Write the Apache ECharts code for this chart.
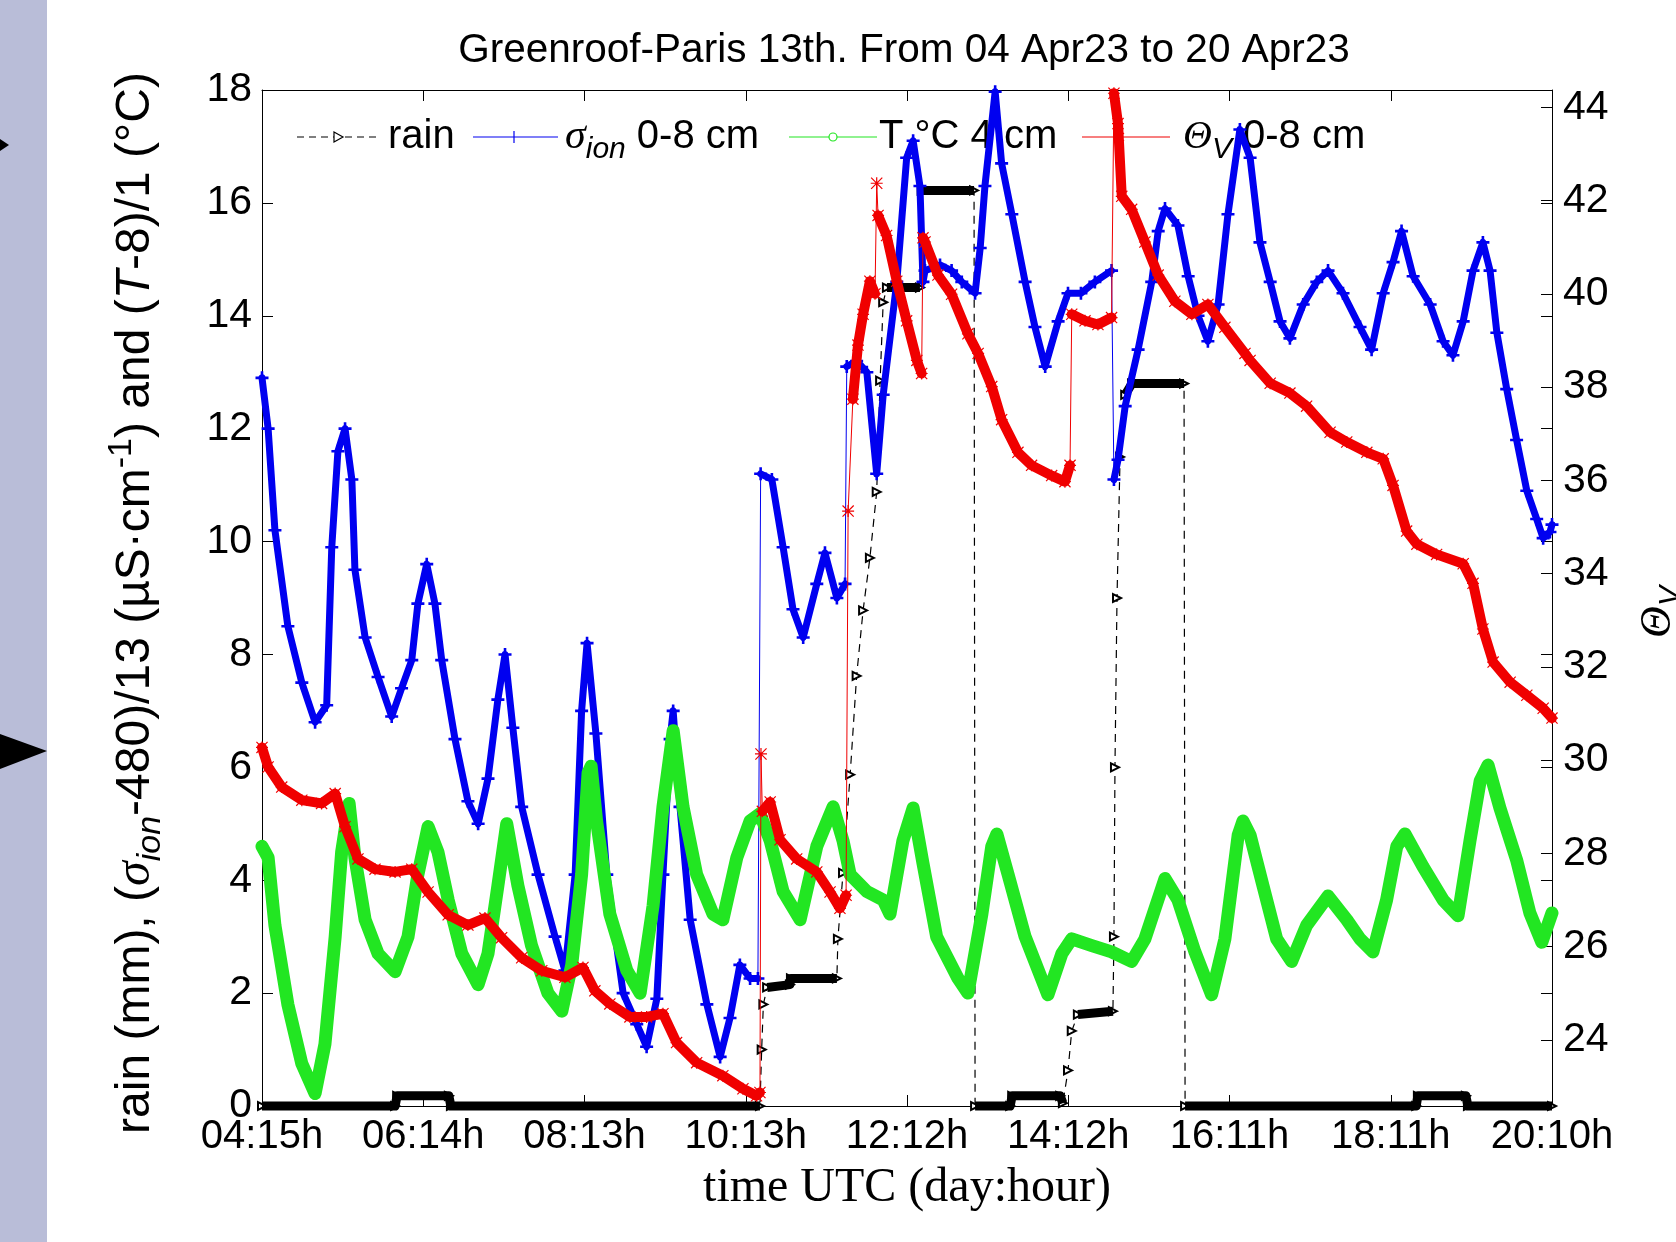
<!DOCTYPE html>
<html>
<head>
<meta charset="utf-8">
<script src="https://cdn.jsdelivr.net/npm/echarts@6/dist/echarts.min.js"></script>
<style>
html,body{margin:0;padding:0;background:#fff;}
#chart{width:1676px;height:1242px;}
</style>
</head>
<body>
<div id="chart"></div>
<script>
// ---------- data (x = hours since 04 Apr 15h UTC) ----------
const xTickLabels = ['04:15h','06:14h','08:13h','10:13h','12:12h','14:12h','16:11h','18:11h','20:10h'];
const X_MAX = 379;
const X_STEP = X_MAX / 8;
const rightTickValues = [24,26,28,30,32,34,36,38,40,42,44];

// cumulative rain (mm), left axis
const rainData = [[0,0],[39.1,0],[39.7,0.18],[54.9,0.18],[55.5,0],[146.3,0],[146.8,1.0],[147.3,1.8],[148.4,2.1],[155.1,2.15],[155.4,2.26],[168.9,2.26],[169.2,2.96],[170.7,4.13],[172.8,5.87],[174.7,7.62],[176.6,8.78],[178.6,9.71],[180.6,10.88],[181.6,12.85],[182.5,14.24],[183.6,14.5],[193.3,14.5],[193.8,16.22],[209.2,16.22],[209.5,0],[219.8,0],[220.4,0.18],[234.5,0.18],[235.3,0.05],[236.8,0.63],[237.9,1.33],[239.7,1.62],[250.0,1.68],[250.3,3.0],[250.6,6.0],[251.2,9.0],[252.1,11.5],[253.6,12.6],[255.6,12.8],[270.9,12.8],[271.2,0],[339.1,0],[339.6,0.18],[353.7,0.18],[354.3,0],[379,0]];

// (sigma_ion - 480)/13, left axis
const sigmaData = [[0,12.9],[1.8,12.0],[3.8,10.2],[7.6,8.5],[11.7,7.5],[15.6,6.8],[19.0,7.1],[20.5,9.9],[22.3,11.6],[24.4,12.0],[26.4,11.1],[27.3,9.5],[30.3,8.3],[34.1,7.6],[38.1,6.9],[41.0,7.4],[44.0,7.9],[45.8,8.9],[48.4,9.6],[50.8,8.9],[52.8,7.9],[56.7,6.5],[60.5,5.4],[63.5,5.0],[66.4,5.8],[69.3,7.2],[71.4,8.0],[73.7,6.7],[76.3,5.3],[81.1,4.1],[86.1,3.0],[89.0,2.4],[92.0,4.1],[93.9,7.0],[95.5,8.2],[98.1,6.6],[101.3,4.1],[106.1,2.0],[110.1,1.45],[113.0,1.05],[116.0,1.9],[117.8,4.1],[119.9,6.5],[120.8,7.0],[122.8,5.3],[125.8,3.3],[130.7,1.8],[134.6,0.87],[137.5,1.56],[140.4,2.5],[143.4,2.26],[145.7,2.26],[146.5,11.2],[149.8,11.1],[153.1,9.9],[156.0,8.8],[159.0,8.3],[163.0,9.25],[165.4,9.8],[168.9,9.0],[171.3,9.25],[171.8,13.1],[174.7,13.2],[177.7,13.0],[180.6,11.2],[182.5,12.6],[186.5,14.6],[189.4,16.8],[191.3,17.1],[193.3,16.3],[194.2,14.6],[194.8,14.8],[199.2,14.9],[202.6,14.8],[205.6,14.6],[209.5,14.4],[211.0,15.2],[212.4,16.3],[215.4,17.97],[217.3,16.7],[220.3,15.8],[224.2,14.6],[227.1,13.8],[230.1,13.1],[233.9,13.9],[236.8,14.4],[240.6,14.4],[244.7,14.6],[249.6,14.8],[250.3,11.1],[251.5,11.45],[253.6,12.4],[257.4,13.4],[261.4,14.6],[263.3,15.5],[265.3,15.9],[269.1,15.6],[272.1,14.7],[275.0,14.0],[277.9,13.55],[280.9,14.2],[283.8,15.8],[287.3,17.3],[290.3,16.8],[293.2,15.3],[296.2,14.6],[299.1,13.9],[302.0,13.6],[305.9,14.2],[309.9,14.6],[313.2,14.8],[317.6,14.4],[322.6,13.8],[326.0,13.4],[329.4,14.4],[332.3,14.95],[334.8,15.5],[338.2,14.7],[343.2,14.2],[347.0,13.55],[349.9,13.3],[352.9,13.9],[355.8,14.8],[358.7,15.3],[360.8,14.8],[362.8,13.7],[365.7,12.7],[368.6,11.8],[371.6,10.9],[374.5,10.4],[376.4,10.06],[378.4,10.17],[379,10.3]];

// (T - 8)/1 at 4 cm, left axis
const tempData = [[0,4.6],[1.8,4.4],[3.8,3.2],[7.6,1.8],[11.7,0.75],[15.6,0.22],[18.5,1.1],[21.5,3.0],[23.4,4.5],[25.6,5.36],[27.3,4.4],[30.3,3.3],[34.1,2.7],[39.1,2.38],[42.9,3.0],[45.8,4.1],[48.8,4.95],[51.7,4.5],[54.7,3.65],[58.7,2.7],[63.5,2.15],[66.4,2.7],[69.3,3.9],[71.9,5.0],[75.2,3.9],[79.2,2.84],[84.0,2.0],[88.1,1.68],[91.0,2.5],[93.9,4.1],[95.8,5.9],[96.7,6.02],[98.3,5.05],[102.2,3.4],[107.2,2.4],[111.1,2.0],[114.9,3.55],[117.8,5.3],[120.8,6.65],[123.7,5.3],[127.7,4.1],[132.5,3.4],[135.4,3.3],[139.5,4.4],[143.4,5.05],[146.3,5.18],[149.3,4.7],[153.1,3.8],[158.1,3.3],[163.0,4.6],[167.8,5.3],[170.7,4.7],[172.8,4.1],[177.7,3.8],[182.5,3.65],[184.5,3.4],[188.3,4.7],[191.3,5.28],[194.2,4.3],[198.2,3.0],[204.5,2.26],[207.4,2.0],[211.5,3.4],[214.4,4.6],[215.9,4.82],[219.2,4.1],[224.2,3.0],[230.9,1.97],[235.0,2.7],[237.9,2.96],[243.8,2.84],[249.6,2.73],[255.5,2.56],[259.4,2.96],[265.3,4.03],[269.1,3.65],[274.1,2.73],[279.0,1.97],[282.9,2.96],[286.8,4.8],[288.2,5.05],[290.3,4.8],[294.1,3.9],[298.1,2.96],[302.5,2.56],[306.9,3.2],[313.2,3.72],[318.7,3.3],[322.6,2.96],[326.4,2.73],[330.4,3.65],[333.4,4.6],[335.8,4.82],[341.1,4.24],[347.0,3.65],[351.4,3.37],[354.9,4.7],[357.9,5.76],[360.2,6.04],[363.7,5.28],[368.6,4.36],[372.5,3.42],[376.0,2.9],[379,3.42]];

// Theta_V 0-8 cm (%), right axis
const thetaData = [[0,30.27],[1.8,29.85],[5.8,29.42],[11.7,29.14],[17.5,29.07],[21.5,29.28],[24.4,28.57],[28.2,27.88],[33.2,27.66],[39.1,27.6],[44.0,27.66],[48.8,27.17],[54.7,26.68],[60.5,26.46],[65.5,26.61],[70.4,26.19],[76.3,25.76],[82.2,25.48],[89.0,25.34],[94.3,25.55],[97.8,25.05],[102.2,24.77],[108.1,24.49],[113.0,24.49],[117.8,24.56],[121.8,23.94],[127.7,23.51],[135.4,23.23],[141.3,22.95],[145.3,22.8],[146.3,22.87],[146.6,30.13],[147.0,28.9],[149.3,29.1],[152.2,28.29],[157.1,27.88],[163.0,27.6],[166.9,27.17],[169.8,26.82],[171.6,27.1],[172.2,35.34],[173.6,37.74],[175.1,38.9],[176.6,39.56],[178.6,40.27],[180.1,40.0],[180.6,42.37],[181.0,41.68],[183.5,41.25],[186.5,40.27],[189.4,39.42],[192.4,38.57],[193.8,38.29],[194.2,41.2],[194.8,41.11],[198.6,40.4],[202.6,39.99],[207.4,39.14],[210.4,38.72],[214.4,38.01],[217.3,37.3],[222.1,36.6],[226.1,36.32],[232.0,36.1],[235.9,35.97],[237.4,36.32],[237.9,39.56],[241.8,39.42],[245.6,39.34],[249.6,39.49],[250.3,44.3],[251.5,43.65],[252.6,42.09],[255.5,41.81],[259.4,41.11],[263.3,40.4],[268.2,39.84],[273.2,39.56],[277.9,39.77],[282.9,39.28],[288.8,38.72],[290.3,38.57],[296.2,38.08],[302.0,37.87],[306.9,37.59],[313.8,37.03],[318.7,36.82],[324.6,36.6],[329.4,36.46],[332.3,35.89],[336.3,34.91],[339.3,34.63],[345.1,34.41],[352.9,34.21],[355.8,33.79],[358.7,32.81],[361.7,32.1],[366.7,31.67],[371.6,31.39],[376.4,31.11],[379,30.9]];

// ---------- styling ----------
const FONT = 'Liberation Sans';
const SERIF = 'Liberation Serif';
const BLUE = '#0000f0';
const GREEN = '#22e622';
const RED = '#f00000';
const PLUS = 'path://M4,0H6V4H10V6H6V10H4V6H0V4H4Z';
const STAR = 'path://M4.5,0H5.5V10H4.5Z M0,4.5H10V5.5H0Z M0.7,0L10,9.3L9.3,10L0,0.7Z M9.3,0L10,0.7L0.7,10L0,9.3Z';

// break a series where a segment is steep (those parts are drawn only by the thin line)
function splitSteep(data, isSteep) {
  const out = [];
  for (let i = 0; i < data.length; i++) {
    if (i > 0 && isSteep(data[i - 1], data[i])) {
      out.push([(data[i - 1][0] + data[i][0]) / 2, '-']);
    }
    out.push(data[i]);
  }
  return out;
}
const slope = (a, b) => Math.abs(b[1] - a[1]) / Math.max(b[0] - a[0], 1e-6);

const chart = echarts.init(document.getElementById('chart'), null, {renderer: 'canvas'});

const LY = 137; // legend centre line
const subRich = (size) => ({fontSize: size, fontFamily: FONT, fontStyle: 'italic', lineHeight: size, padding: [Math.round(size * 0.85), 0, 0, 0], verticalAlign: 'middle', color: '#000'});
const supRich = (size) => ({fontSize: size, fontFamily: FONT, lineHeight: size, padding: [0, 0, Math.round(size * 0.85), 0], verticalAlign: 'middle', color: '#000'});
const axisLineStyle = {show: true, onZero: false, lineStyle: {color: '#000', width: 1}};
const tickStyle = {show: true, inside: true, length: 11, lineStyle: {color: '#000', width: 1}};

const option = {
  animation: false,
  backgroundColor: '#fff',
  title: {
    text: 'Greenroof-Paris 13th. From 04 Apr23 to 20 Apr23',
    left: 904, top: 30, textAlign: 'center', padding: 0,
    textStyle: {fontFamily: FONT, fontSize: 40.5, fontWeight: 'normal', color: '#000'}
  },
  grid: {left: 262, right: 124, top: 90, bottom: 136, show: false},
  xAxis: [
    {
      type: 'value', min: 0, max: X_MAX, interval: X_STEP, position: 'bottom',
      axisLine: axisLineStyle, axisTick: tickStyle,
      axisLabel: {formatter: v => xTickLabels[Math.round(v / X_STEP)] || '', color: '#000', fontSize: 40, fontFamily: FONT, margin: 11},
      splitLine: {show: false},
      name: 'time UTC (day:hour)', nameLocation: 'middle', nameGap: 58,
      nameTextStyle: {fontFamily: SERIF, fontSize: 48, color: '#000'}
    },
    {
      type: 'value', min: 0, max: X_MAX, interval: X_STEP, position: 'top',
      axisLine: axisLineStyle, axisTick: tickStyle,
      axisLabel: {show: false}, splitLine: {show: false}
    }
  ],
  yAxis: [
    {
      type: 'value', min: 0, max: 18, interval: 2, position: 'left',
      axisLine: axisLineStyle, axisTick: tickStyle,
      axisLabel: {color: '#000', fontSize: 41, fontFamily: FONT, margin: 10},
      splitLine: {show: false}
    },
    {
      type: 'value', min: 22.58, max: 44.37, position: 'right',
      axisLine: axisLineStyle,
      axisTick: Object.assign({}, tickStyle, {customValues: rightTickValues}),
      axisLabel: {customValues: rightTickValues, color: '#000', fontSize: 41, fontFamily: FONT, margin: 11},
      splitLine: {show: false}
    },
    {
      type: 'value', min: 0, max: 18, interval: 2, position: 'right',
      axisLine: {show: false, onZero: false}, axisTick: tickStyle,
      axisLabel: {show: false}, splitLine: {show: false}
    }
  ],
  series: [
    {
      name: 'rain', type: 'line', xAxisIndex: 0, yAxisIndex: 0, data: rainData, z: 2, clip: false,
      symbol: 'emptyTriangle', symbolRotate: -90, symbolSize: 8, showSymbol: true,
      lineStyle: {color: '#000', width: 1.2, type: [8, 6]}, itemStyle: {color: '#000'}
    },
    {
      name: 'rain band', type: 'line', xAxisIndex: 0, yAxisIndex: 0, z: 3, clip: false,
      data: splitSteep(rainData, (a, b) => Math.abs(b[1] - a[1]) > 0.25),
      showSymbol: false, connectNulls: false,
      lineStyle: {color: '#000', width: 9, join: 'round', cap: 'butt'}
    },
    {
      name: 'sigma band', type: 'line', xAxisIndex: 0, yAxisIndex: 0, z: 4, clip: false,
      data: splitSteep(sigmaData, (a, b) => slope(a, b) > 4),
      showSymbol: false, connectNulls: false,
      lineStyle: {color: BLUE, width: 7, join: 'round', cap: 'round'}
    },
    {
      name: 'σion 0-8 cm', type: 'line', xAxisIndex: 0, yAxisIndex: 0, z: 5, clip: false,
      data: sigmaData, symbol: PLUS, symbolSize: 13, showSymbol: true,
      lineStyle: {color: BLUE, width: 1}, itemStyle: {color: BLUE}
    },
    {
      name: 'T °C 4 cm', type: 'line', xAxisIndex: 0, yAxisIndex: 0, z: 6, clip: false,
      data: tempData, showSymbol: false,
      lineStyle: {color: GREEN, width: 13, join: 'round', cap: 'round'}
    },
    {
      name: 'theta band', type: 'line', xAxisIndex: 0, yAxisIndex: 1, z: 7, clip: false,
      data: splitSteep(thetaData, (a, b) => slope(a, b) > 1.5),
      showSymbol: false, connectNulls: false,
      lineStyle: {color: RED, width: 10, join: 'round', cap: 'round'}
    },
    {
      name: 'ΘV 0-8 cm', type: 'line', xAxisIndex: 0, yAxisIndex: 1, z: 8, clip: false,
      data: thetaData, symbol: STAR, symbolSize: 12, showSymbol: true,
      lineStyle: {color: RED, width: 1}, itemStyle: {color: RED}
    }
  ],
  graphic: [
    // left side panel with arrows
    {type: 'rect', z: 0, silent: true, shape: {x: 0, y: 0, width: 47, height: 1242}, style: {fill: '#b9bdd8'}},
    {type: 'polygon', z: 1, silent: true, shape: {points: [[0, 734], [47, 751], [0, 769]]}, style: {fill: '#000'}},
    {type: 'polygon', z: 1, silent: true, shape: {points: [[0, 139], [9, 145], [0, 151]]}, style: {fill: '#000'}},

    // legend: rain
    {type: 'line', z: 1, shape: {x1: 297, y1: LY, x2: 378, y2: LY}, style: {stroke: '#000', lineWidth: 1.2, lineDash: [7, 5]}},
    {type: 'polygon', z: 1, shape: {points: [[334, LY - 5], [343, LY], [334, LY + 5]]}, style: {fill: '#fff', stroke: '#000', lineWidth: 1.2}},
    {type: 'text', z: 1, x: 388, y: LY, style: {text: 'rain', font: '40px "Liberation Sans"', fill: '#000', verticalAlign: 'middle', textVerticalAlign: 'middle'}},
    // legend: sigma
    {type: 'line', z: 1, shape: {x1: 473, y1: LY, x2: 558, y2: LY}, style: {stroke: BLUE, lineWidth: 1.2}},
    {type: 'line', z: 1, shape: {x1: 514, y1: LY - 6, x2: 514, y2: LY + 6}, style: {stroke: BLUE, lineWidth: 1.2}},
    {type: 'text', z: 1, x: 565, y: LY, style: {
      text: '{g|σ}{sub|ion}{t| 0-8 cm}', verticalAlign: 'middle', textVerticalAlign: 'middle',
      rich: {g: {fontSize: 42, fontFamily: SERIF, fontStyle: 'italic', lineHeight: 42, verticalAlign: 'middle', color: '#000'},
             sub: subRich(30),
             t: {fontSize: 40, fontFamily: FONT, lineHeight: 42, verticalAlign: 'middle', color: '#000'}}}},
    // legend: temperature
    {type: 'line', z: 1, shape: {x1: 789, y1: LY, x2: 877, y2: LY}, style: {stroke: GREEN, lineWidth: 1.2}},
    {type: 'circle', z: 1, shape: {cx: 833, cy: LY, r: 4}, style: {fill: '#fff', stroke: GREEN, lineWidth: 1.2}},
    {type: 'text', z: 1, x: 879, y: LY, style: {text: 'T °C 4 cm', font: '40px "Liberation Sans"', fill: '#000', verticalAlign: 'middle', textVerticalAlign: 'middle'}},
    // legend: theta
    {type: 'line', z: 1, shape: {x1: 1082, y1: LY, x2: 1170, y2: LY}, style: {stroke: RED, lineWidth: 1.2}},
    {type: 'line', z: 1, shape: {x1: 1119, y1: LY - 6, x2: 1119, y2: LY + 6}, style: {stroke: RED, lineWidth: 1.2}},
    {type: 'line', z: 1, shape: {x1: 1114, y1: LY - 4, x2: 1124, y2: LY + 4}, style: {stroke: RED, lineWidth: 1.2}},
    {type: 'line', z: 1, shape: {x1: 1114, y1: LY + 4, x2: 1124, y2: LY - 4}, style: {stroke: RED, lineWidth: 1.2}},
    {type: 'text', z: 1, x: 1183, y: LY, style: {
      text: '{g|Θ}{sub|V}{t| 0-8 cm}', verticalAlign: 'middle', textVerticalAlign: 'middle',
      rich: {g: {fontSize: 40, fontFamily: SERIF, fontStyle: 'italic', lineHeight: 42, verticalAlign: 'middle', color: '#000'},
             sub: subRich(30),
             t: {fontSize: 40, fontFamily: FONT, lineHeight: 42, verticalAlign: 'middle', color: '#000'}}}},

    // left y-axis title (rotated)
    {type: 'text', z: 1, x: 136, y: 603, rotation: Math.PI / 2, style: {
      text: '{a|rain (mm), (}{g|σ}{sub|ion}{a|-480)/13 (µS·cm}{sup|-1}{a|) and (}{i|T}{a|-8)/1 (°C)}',
      align: 'center', textAlign: 'center', verticalAlign: 'middle', textVerticalAlign: 'middle',
      rich: {a: {fontSize: 48, fontFamily: FONT, lineHeight: 50, verticalAlign: 'middle', color: '#000'},
             g: {fontSize: 50, fontFamily: SERIF, fontStyle: 'italic', lineHeight: 50, verticalAlign: 'middle', color: '#000'},
             i: {fontSize: 48, fontFamily: FONT, fontStyle: 'italic', lineHeight: 50, verticalAlign: 'middle', color: '#000'},
             sub: subRich(34), sup: supRich(34)}}},
    // right y-axis title (rotated, partly cut by the page edge)
    {type: 'text', z: 1, x: 1658, y: 612, rotation: Math.PI / 2, style: {
      text: '{g|Θ}{sub|V}', align: 'center', textAlign: 'center', verticalAlign: 'middle', textVerticalAlign: 'middle',
      rich: {g: {fontSize: 44, fontFamily: SERIF, fontStyle: 'italic', lineHeight: 44, verticalAlign: 'middle', color: '#000'},
             sub: subRich(30)}}}
  ]
};
chart.setOption(option);
</script>
</body>
</html>
